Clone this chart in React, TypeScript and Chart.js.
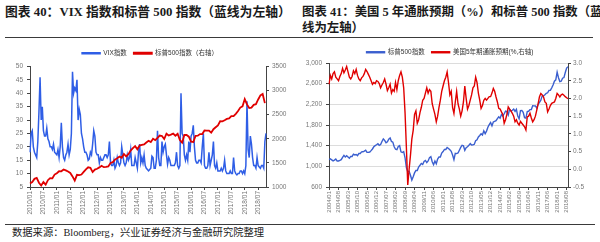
import React, { useEffect, useRef } from "react";
import { Chart, registerables } from "chart.js";

Chart.register(...registerables);

// ---------- categories ----------
function monthRange(y0: number, m0: number, y1: number, m1: number): string[] {
  const out: string[] = [];
  let y = y0;
  let m = m0;
  while (y < y1 || (y === y1 && m <= m1)) {
    out.push(`${y}/${String(m).padStart(2, "0")}`);
    m++;
    if (m > 12) { m = 1; y++; }
  }
  return out;
}

// Chart 40: two VIX observations per month, 2010/01 - 2018/10
const vixMonths = monthRange(2010, 1, 2018, 10);
const vixSlots = vixMonths.flatMap((m) => [m, m]);
const vixTickEvery = 12; // label every 6 months

// Chart 41: monthly, 2004/01 - 2018/09
const inflMonths = monthRange(2004, 1, 2018, 9);
const inflTickEvery = 7; // label every 7 months

// ---------- Chart 40 series ----------
const vixValues = [
  // 2010
  18, 25, 26, 20, 18, 17, 16, 22, 33, 46, 30, 35, 26, 24, 24, 27, 23, 22, 20, 20, 19, 21, 18, 17.5,
  // 2011
  17, 19, 16, 20, 29, 20, 16, 15, 17, 18, 21, 17, 19, 25, 48, 40, 42, 41, 45, 30, 34, 32, 25, 23,
  // 2012
  20, 18, 18, 17, 15, 15.5, 18, 17, 21, 26, 24, 18, 17, 17, 14, 16, 15, 15, 16, 17, 17, 16, 17, 22,
  // 2013
  14, 13, 13, 15, 12, 13, 16, 14, 13, 14, 20, 17, 14, 13, 14, 17, 15, 16, 19, 13, 13, 13, 16, 14,
  // 2014
  12, 18, 21, 14, 16, 14, 17, 13, 12, 11.5, 11, 11.5, 12, 16.5, 16, 12, 12, 15, 26, 16, 13, 13, 22, 18,
  // 2015
  20, 21, 17, 13.5, 16, 15, 13, 13, 13, 13, 14, 18, 13, 12, 13, 40, 25, 24, 17, 15, 17, 15, 22, 18,
  // 2016
  24, 25, 28, 20, 15, 14, 14, 15, 15, 14, 20, 25, 13, 12, 12, 13, 18, 13, 15, 17, 22, 13, 12, 14,
  // 2017
  11, 11, 11, 12, 11, 12, 15, 11, 10, 10, 10, 11, 10, 10, 16, 11, 10, 9.5, 10, 10, 11, 11, 10, 11,
  // 2018
  10, 13, 37, 19, 16, 24, 21, 16, 13, 13, 12, 16, 13, 12.5, 12, 13, 13, 12, 22, 25,
];

const spxMonthly2010 = [
  1074, 1104, 1169, 1187, 1089, 1031, 1102, 1049, 1141, 1183, 1181, 1258,
  1286, 1327, 1326, 1364, 1345, 1321, 1292, 1219, 1131, 1253, 1247, 1258,
  1312, 1366, 1408, 1398, 1310, 1362, 1379, 1407, 1441, 1412, 1416, 1426,
  1498, 1515, 1569, 1598, 1631, 1606, 1686, 1633, 1682, 1757, 1806, 1848,
  1783, 1859, 1872, 1884, 1924, 1960, 1931, 2003, 1972, 2018, 2068, 2059,
  1995, 2105, 2068, 2086, 2107, 2063, 2104, 1972, 1920, 2079, 2080, 2044,
  1940, 1932, 2060, 2065, 2097, 2099, 2174, 2171, 2168, 2126, 2199, 2239,
  2279, 2364, 2363, 2384, 2412, 2423, 2470, 2472, 2519, 2575, 2648, 2674,
  2824, 2714, 2641, 2648, 2705, 2718, 2816, 2902, 2930, 2740,
];

// ---------- Chart 41 series ----------
const spx2004 = [
  1131, 1145, 1126, 1107, 1121, 1141, 1102, 1104, 1115, 1130, 1174, 1212,
  1181, 1204, 1181, 1157, 1192, 1191, 1234, 1220, 1229, 1207, 1249, 1248,
  1280, 1281, 1295, 1311, 1270, 1270, 1277, 1304, 1336, 1378, 1401, 1418,
  1438, 1407, 1421, 1482, 1531, 1503, 1455, 1474, 1527, 1549, 1481, 1468,
  1379, 1331, 1323, 1386, 1400, 1280, 1267, 1283, 1166, 969, 896, 903,
  826, 735, 798, 873, 919, 919, 987, 1021, 1057, 1036, 1096, 1115,
  1074, 1104, 1169, 1187, 1089, 1031, 1102, 1049, 1141, 1183, 1181, 1258,
  1286, 1327, 1326, 1364, 1345, 1321, 1292, 1219, 1131, 1253, 1247, 1258,
  1312, 1366, 1408, 1398, 1310, 1362, 1379, 1407, 1441, 1412, 1416, 1426,
  1498, 1515, 1569, 1598, 1631, 1606, 1686, 1633, 1682, 1757, 1806, 1848,
  1783, 1859, 1872, 1884, 1924, 1960, 1931, 2003, 1972, 2018, 2068, 2059,
  1995, 2105, 2068, 2086, 2107, 2063, 2104, 1972, 1920, 2079, 2080, 2044,
  1940, 1932, 2060, 2065, 2097, 2099, 2174, 2171, 2168, 2126, 2199, 2239,
  2279, 2364, 2363, 2384, 2412, 2423, 2470, 2472, 2519, 2575, 2648, 2674,
  2824, 2714, 2641, 2648, 2705, 2718, 2816, 2902, 2930,
];

const infl5y = [
  2.40, 2.65, 2.55, 2.70, 2.75, 2.60, 2.55, 2.50, 2.62, 2.70, 2.85, 2.72,
  2.80, 2.90, 2.75, 2.60, 2.55, 2.62, 2.78, 2.70, 2.82, 2.65, 2.55, 2.50,
  2.58, 2.62, 2.70, 2.82, 2.76, 2.68, 2.60, 2.50, 2.40, 2.45, 2.42, 2.50,
  2.48, 2.42, 2.30, 2.38, 2.45, 2.55, 2.40, 2.22, 2.30, 2.40, 2.15, 2.25,
  2.20, 2.45, 2.25, 2.50, 2.65, 2.75, 2.60, 2.30, 1.60, 0.60, -0.44, 0.00,
  0.40, 0.85, 1.10, 1.55, 1.65, 1.30, 1.40, 1.60, 1.75, 1.95, 2.00, 2.15,
  2.30, 2.15, 2.25, 2.20, 1.85, 1.70, 1.55, 1.34, 1.50, 1.75, 1.95, 2.20,
  2.35, 2.50, 2.60, 2.75, 2.45, 2.10, 2.20, 1.75, 1.58, 1.90, 2.20, 1.85,
  1.70, 1.50, 1.65, 1.90, 2.35, 2.00, 1.70, 1.80, 1.95, 2.10, 2.30, 2.35,
  2.60, 2.45, 2.15, 1.95, 1.72, 1.80, 1.95, 2.00, 1.95, 2.00, 2.05, 2.05,
  2.15, 2.28, 2.20, 2.04, 1.90, 1.72, 1.70, 1.62, 1.55, 1.30, 1.40, 1.55,
  1.76, 1.70, 1.65, 1.58, 1.50, 1.34, 1.40, 1.30, 1.25, 1.35, 1.30, 1.25,
  1.20, 1.11, 1.48, 1.50, 1.58, 1.45, 1.34, 1.40, 1.50, 1.67, 1.85, 2.05,
  2.14, 2.10, 2.04, 1.90, 1.86, 1.62, 1.70, 1.80, 1.86, 1.88, 1.90, 2.00,
  2.14, 2.10, 2.04, 2.10, 2.12, 2.09, 2.05, 2.02, 1.99,
];

// ---------- styling ----------
const SANS = '"Liberation Sans", "Noto Sans CJK SC", sans-serif';
const SERIF = '"Liberation Serif", "Noto Sans CJK SC", serif';
const TICK_COLOR = "#777";
const AXIS_COLOR = "#444";
const tickFont = { size: 6.5, family: SANS };

function LeftChart() {
  const ref = useRef<HTMLCanvasElement>(null);
  useEffect(() => {
    const spxSlots = spxMonthly2010.flatMap((v) => [v, null]);
    const chart = new Chart(ref.current as HTMLCanvasElement, {
      type: "line",
      data: {
        labels: vixSlots,
        datasets: [
          {
            label: "VIX指数",
            data: vixValues,
            borderColor: "#2f5ee6",
            backgroundColor: "#2f5ee6",
            borderWidth: 1.5,
            pointRadius: 0,
            yAxisID: "y",
            order: 2,
          },
          {
            label: "标普500指数（右轴）",
            data: spxSlots,
            borderColor: "#e00000",
            backgroundColor: "#e00000",
            borderWidth: 1.8,
            pointRadius: 0,
            spanGaps: true,
            yAxisID: "y1",
            order: 1,
          },
        ],
      },
      options: {
        responsive: false,
        animation: false,
        layout: { padding: 0 },
        plugins: {
          tooltip: { enabled: false },
          legend: {
            position: "top",
            labels: {
              boxWidth: 18,
              boxHeight: 1,
              padding: 7,
              color: "#333",
              font: { size: 6.5, family: SANS },
              sort: (a: any, b: any) => a.datasetIndex - b.datasetIndex,
            },
          },
        },
        scales: {
          x: {
            type: "category",
            offset: false,
            grid: { drawOnChartArea: false, drawTicks: true, tickLength: 3, tickColor: AXIS_COLOR },
            border: { display: true, color: AXIS_COLOR, width: 1 },
            ticks: {
              autoSkip: false,
              maxRotation: 90,
              minRotation: 90,
              padding: 1,
              color: TICK_COLOR,
              font: tickFont,
              callback: (_v: any, i: number) => (i % vixTickEvery === 0 ? vixSlots[i] : null),
            },
            afterFit: (s: any) => { s.height = 34; },
          },
          y: {
            position: "left",
            min: 5,
            max: 50,
            grid: { drawOnChartArea: false, tickLength: 3, tickColor: AXIS_COLOR },
            border: { display: true, color: AXIS_COLOR, width: 1 },
            ticks: { stepSize: 5, padding: 4, color: TICK_COLOR, font: tickFont },
            afterFit: (s: any) => { s.width = 30; },
          },
          y1: {
            position: "right",
            min: 1000,
            max: 3500,
            grid: { drawOnChartArea: false, tickLength: 3, tickColor: AXIS_COLOR },
            border: { display: true, color: AXIS_COLOR, width: 1 },
            ticks: { stepSize: 500, padding: 3, color: TICK_COLOR, font: tickFont, callback: (v: any) => String(v) },
            afterFit: (s: any) => { s.width = 34; },
          },
        },
      },
    });
    return () => chart.destroy();
  }, []);
  return (
    <canvas
      ref={ref}
      width={300}
      height={178}
      style={{ position: "absolute", left: 0, top: 43, width: 300, height: 178 }}
    />
  );
}

function RightChart() {
  const ref = useRef<HTMLCanvasElement>(null);
  useEffect(() => {
    const chart = new Chart(ref.current as HTMLCanvasElement, {
      type: "line",
      data: {
        labels: inflMonths,
        datasets: [
          {
            label: "标普500指数",
            data: spx2004,
            borderColor: "#3b5fcf",
            backgroundColor: "#3b5fcf",
            borderWidth: 1.4,
            pointRadius: 0,
            yAxisID: "y",
            order: 2,
          },
          {
            label: "美国5年期通胀预期(%,右轴)",
            data: infl5y,
            borderColor: "#e00000",
            backgroundColor: "#e00000",
            borderWidth: 1.4,
            pointRadius: 0,
            yAxisID: "y1",
            order: 1,
          },
        ],
      },
      options: {
        responsive: false,
        animation: false,
        layout: { padding: 0 },
        plugins: {
          tooltip: { enabled: false },
          legend: {
            position: "top",
            maxHeight: 21,
            labels: {
              boxWidth: 18,
              boxHeight: 1,
              padding: 7,
              color: "#333",
              font: { size: 6.5, family: SANS },
              sort: (a: any, b: any) => a.datasetIndex - b.datasetIndex,
            },
          },
        },
        scales: {
          x: {
            type: "category",
            offset: false,
            grid: { drawOnChartArea: false, drawTicks: true, tickLength: 3, tickColor: AXIS_COLOR },
            border: { display: true, color: AXIS_COLOR, width: 1 },
            ticks: {
              autoSkip: false,
              maxRotation: 90,
              minRotation: 90,
              padding: 1,
              color: TICK_COLOR,
              font: { size: 6, family: SANS },
              callback: (_v: any, i: number) => (i % inflTickEvery === 0 ? inflMonths[i] : null),
            },
            afterFit: (s: any) => { s.height = 34; },
          },
          y: {
            position: "left",
            min: 600,
            max: 3000,
            grid: { drawOnChartArea: true, color: "#dcdcdc", tickLength: 3, tickColor: AXIS_COLOR },
            border: { display: true, color: AXIS_COLOR, width: 1 },
            ticks: {
              stepSize: 200,
              padding: 4,
              color: TICK_COLOR,
              font: tickFont,
              callback: (v: any) => Number(v).toLocaleString("en-US"),
            },
            afterFit: (s: any) => { s.width = 29; },
          },
          y1: {
            position: "right",
            min: -0.5,
            max: 3.0,
            grid: { drawOnChartArea: false, tickLength: 3, tickColor: AXIS_COLOR },
            border: { display: true, color: AXIS_COLOR, width: 1 },
            ticks: {
              stepSize: 0.5,
              padding: 2,
              color: TICK_COLOR,
              font: tickFont,
              callback: (v: any) => Number(v).toFixed(1),
            },
            afterFit: (s: any) => { s.width = 32; },
          },
        },
      },
    });
    return () => chart.destroy();
  }, []);
  return (
    <canvas
      ref={ref}
      width={300}
      height={179}
      style={{ position: "absolute", left: 300, top: 42, width: 300, height: 179 }}
    />
  );
}

const titleStyle: React.CSSProperties = {
  position: "absolute",
  top: 4,
  fontFamily: SERIF,
  fontWeight: "bold",
  lineHeight: "16px",
  color: "#1a1a1a",
  whiteSpace: "nowrap",
};

const rule = (left: number, top: number, width: number): React.CSSProperties => ({
  position: "absolute",
  left,
  top,
  width,
  height: 1.4,
  background: "#3a3a3a",
});

export default function App() {
  return (
    <div
      style={{
        position: "absolute",
        left: 0,
        top: 0,
        width: 600,
        height: 242,
        background: "#fff",
        overflow: "hidden",
      }}
    >
      <div style={{ ...titleStyle, left: 5, fontSize: 12.8 }}>图表 40：VIX 指数和标普 500 指数（蓝线为左轴）</div>
      <div style={{ ...titleStyle, left: 302, fontSize: 12.4 }}>
        图表 41：美国 5 年通胀预期（%）和标普 500 指数（蓝
        <br />
        线为左轴）
      </div>
      <div style={rule(5, 37, 295)} />
      <div style={rule(300, 37, 293)} />
      <LeftChart />
      <RightChart />
      <div style={rule(5, 223.5, 295)} />
      <div style={rule(300, 223.5, 295)} />
      <div
        style={{
          position: "absolute",
          left: 12,
          top: 226,
          fontFamily: SERIF,
          fontSize: 10.3,
          lineHeight: "14px",
          color: "#222",
          whiteSpace: "nowrap",
        }}
      >
        数据来源：Bloomberg，兴业证券经济与金融研究院整理
      </div>
    </div>
  );
}
